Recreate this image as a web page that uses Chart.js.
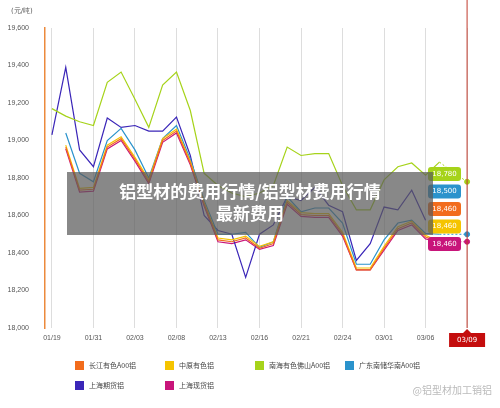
<!DOCTYPE html>
<html><head><meta charset="utf-8">
<script src="https://cdn.jsdelivr.net/npm/chart.js@4/dist/chart.umd.min.js"></script>
<style>
body{margin:0;background:#fff;font-family:"Noto Sans CJK SC",sans-serif}
#wrap{position:relative;width:500px;height:408px}
.lg{position:absolute;font-size:7px;color:#444;display:flex;align-items:center}
.lg i{display:inline-block;width:9px;height:9px;margin-right:5px}
#band{position:absolute;left:67px;top:172px;width:366px;height:63px;background:rgba(90,90,90,0.72);color:#fff;font-weight:bold;font-size:17px;text-align:center;line-height:22px;padding-top:8px;box-sizing:border-box}
#wm{position:absolute;right:8px;top:382px;font-size:10px;color:#bbb}
</style></head><body>
<div id="wrap"><canvas id="c" width="500" height="408"></canvas>
<div id="band">铝型材的费用行情/铝型材费用行情<br>最新费用</div>
<div id="wm">@铝型材加工销铝</div>
</div>
<script>
var tickLabels = ['01/19','01/31','02/03','02/08','02/13','02/16','02/21','02/24','03/01','03/06','03/09'];
var categories = [];
for (var i = 0; i < 31; i++) categories.push(i % 3 == 0 ? tickLabels[i / 3] : '');

var names = ['长江有色A00铝','中原有色铝','南海有色佛山A00铝','广东南储华南A00铝','上海期货铝','上海现货铝'];
var colors = ['#f26c1c','#f5c400','#a6d31a','#2b93cc','#3b26b8','#c8157a'];

var changjiang = [null,18965,18735,18740,18965,19010,18900,18780,19000,19050,18880,18660,18470,18460,18480,18425,18450,18670,18605,18600,18600,18500,18310,18310,18425,18530,18560,18485,18460,null,null];
var zhongyuan  = [null,18975,18745,18750,18975,19020,18910,18790,19010,19060,18890,18670,18480,18470,18490,18435,18460,18680,18615,18610,18610,18510,18320,18320,18435,18540,18570,18495,18460,null,null];
var nanhai     = [19170,19130,19100,19080,19310,19365,19220,19070,19295,19365,19160,18825,18760,18720,18700,18720,18760,18965,18920,18930,18930,18760,18630,18630,18790,18860,18880,18815,18885,null,null];
var guangdong  = [null,19040,18825,18780,19000,19065,18950,18800,19010,19080,18900,18680,18500,18500,18510,18430,18460,18700,18620,18640,18640,18560,18340,18340,18470,18560,18575,18505,18500,null,null];
var shqihuo    = [19030,19390,18950,18860,19120,19070,19080,19050,19050,19125,18920,18600,18520,18500,18270,18500,18550,18700,18680,18750,18655,18620,18360,18450,18645,18630,18735,18575,null,null,null];
var shxianhuo  = [null,18955,18725,18730,18955,19000,18890,18770,18990,19040,18870,18650,18460,18450,18470,18420,18440,18660,18595,18590,18590,18490,18310,18310,18415,18520,18550,18475,18460,null,null];
var nanhaiTail = [null,null,null,null,null,null,null,null,null,null,null,null,null,null,null,null,null,null,null,null,null,null,null,null,null,null,null,null,18885,18830,18780];
var guangTail  = [null,null,null,null,null,null,null,null,null,null,null,null,null,null,null,null,null,null,null,null,null,null,null,null,null,null,null,null,18500,18500,18500];
var xianTail   = [null,null,null,null,null,null,null,null,null,null,null,null,null,null,null,null,null,null,null,null,null,null,null,null,null,null,null,null,18460,18460,18460];
var yTicks = [18000,18200,18400,18600,18800,19000,19200,19400,19600];

var series = [changjiang, zhongyuan, nanhai, guangdong, shqihuo, shxianhuo];
var datasets = series.map(function(d, k) {
  return {label: names[k], data: d, borderColor: colors[k], borderWidth: 1.2, pointRadius: 0, tension: 0, spanGaps: false};
});
[[nanhaiTail,2],[guangTail,3],[xianTail,5]].forEach(function(t) {
  datasets.push({label: '', data: t[0], borderColor: colors[t[1]], backgroundColor: colors[t[1]], borderWidth: 1, borderDash: [2,2],
    pointRadius: function(ctx){ return ctx.dataIndex == 30 ? 2.5 : 0; }});
});

var boxes = [[18780,'#a6d31a'],[18500,'#2b93cc'],[18460,'#f26c1c'],[18460,'#f5c400'],[18460,'#c8157a']];

var overlay = {
  id: 'overlay',
  afterDraw: function(chart) {
    var c = chart.ctx, a = chart.chartArea, xs = chart.scales.x;
    var x = xs.getPixelForValue(30);
    c.save();
    c.strokeStyle = '#c0392b'; c.lineWidth = 1;
    c.beginPath(); c.moveTo(x, 0); c.lineTo(x, a.bottom); c.stroke();
    c.fillStyle = '#c40d0d'; c.fillRect(x - 18, a.bottom + 5, 36, 14);
    c.beginPath(); c.moveTo(x - 4, a.bottom + 5); c.lineTo(x, a.bottom + 1); c.lineTo(x + 4, a.bottom + 5); c.fill();
    c.fillStyle = '#fff'; c.font = '7px "DejaVu Sans"'; c.textAlign = 'center'; c.textBaseline = 'middle';
    c.fillText('03/09', x, a.bottom + 12);
    c.fillStyle = '#555'; c.textAlign = 'left';
    c.fillText('(元/吨)', 11, 11);
    boxes.forEach(function(b, i) {
      var bx = 428, by = 167 + i * 17.5;
      c.fillStyle = b[1];
      c.beginPath(); c.roundRect(bx, by, 33, 14, 3); c.fill();
      c.fillStyle = '#fff'; c.textAlign = 'center';
      c.fillText(b[0].toLocaleString('en-US'), bx + 16.5, by + 7);
    });
    c.restore();
  }
};

new Chart(document.getElementById('c'), {
  type: 'line',
  data: {labels: categories, datasets: datasets},
  plugins: [overlay],
  options: {
    responsive: false, animation: false,
    layout: {padding: {top: 28, right: 26}},
    plugins: {legend: {display: false}, tooltip: {enabled: false}},
    scales: {
      x: {
        offset: true,
        afterFit: function(s){ s.height = 80; },
        grid: {offset: false, color: function(ctx){ return ctx.index % 3 == 0 ? '#ddd' : 'rgba(0,0,0,0)'; }, drawTicks: false},
        border: {display: false},
        ticks: {autoSkip: false, maxRotation: 0, padding: 6, color: '#555', font: {size: 7},
          callback: function(v, i){ return i == 30 ? '' : categories[i]; }}
      },
      y: {
        min: 18000, max: 19600,
        afterFit: function(s){ s.width = 45; },
        afterBuildTicks: function(s){ s.ticks = yTicks.map(function(v){ return {value: v}; }); },
        grid: {display: false},
        border: {color: '#ec8a3c', width: 1.5},
        ticks: {color: '#555', font: {size: 7}, padding: 8,
          callback: function(v){ return v.toLocaleString('en-US'); }}
      }
    }
  }
});

var legend = [[0,75,360],[1,165,360],[2,255,360],[3,345,360],[4,75,380],[5,165,380]];
legend.forEach(function(l) {
  var d = document.createElement('div');
  d.className = 'lg';
  d.style.left = l[1] + 'px'; d.style.top = l[2] + 'px';
  d.innerHTML = '<i style="background:' + colors[l[0]] + '"></i>' + names[l[0]];
  document.getElementById('wrap').appendChild(d);
});
</script>
</body></html>
